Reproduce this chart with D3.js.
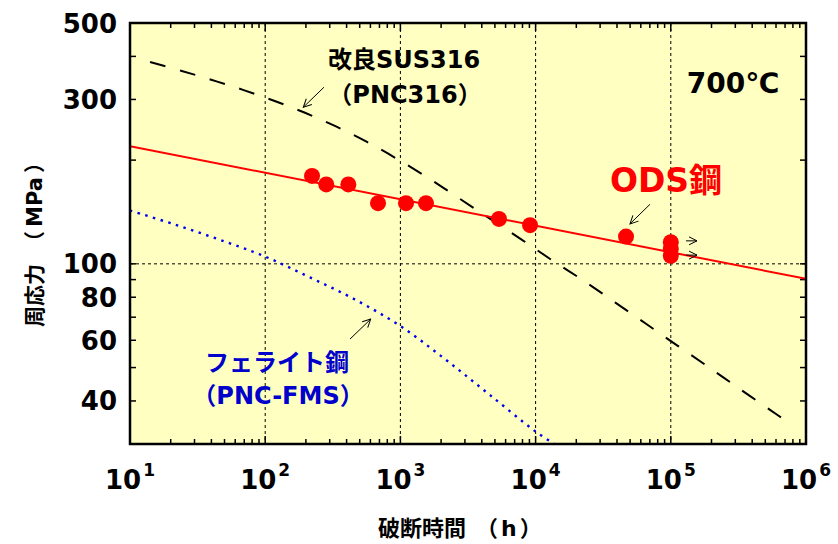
<!DOCTYPE html>
<html><head><meta charset="utf-8">
<script src="https://cdn.jsdelivr.net/npm/d3@7"></script>
<style>
body{margin:0;background:#fff;}
text{font-family:"DejaVu Sans","Noto Sans CJK JP",sans-serif;font-weight:bold;}
</style></head>
<body>
<svg id="c" width="838" height="544"></svg>
<script>
// ---- data ----
const xTickValues = [1e1, 1e2, 1e3, 1e4, 1e5, 1e6];
const xTickExponents = ["1", "2", "3", "4", "5", "6"];
const yTickLabels = [500, 300, 100, 80, 60, 40];
const yTickMarks = [40, 50, 60, 70, 80, 90, 100, 200, 300, 400, 500];
const gridX = [1e2, 1e3, 1e4, 1e5];
const gridY = [100];

const odsHours  = [222, 283, 412, 683, 1100, 1546, 5357, 9100, 46650, 100000, 100000, 100000];
const odsStress = [180, 170, 170, 150, 150, 150, 135, 129.5, 120, 115.5, 110.5, 105.5];
const odsFitHours  = [10, 1e6];
const odsFitStress = [219.5, 90.5];

const pncHours  = [14.07, 23.8, 40.4, 68.5, 116.2, 197, 334, 566, 960, 1627, 2760, 4677, 7930, 13450, 22800, 38670, 65560, 111200, 188400, 319500, 541700, 774500];
const pncStress = [385.3, 363.6, 341.7, 319.9, 297.4, 274.4, 250.5, 225.9, 200.9, 177.0, 154.3, 134.6, 117.4, 102.0, 89.2, 77.3, 67.0, 58.0, 50.3, 43.5, 37.7, 34.2];

const fmsHours  = [10, 21.5, 46.3, 99.7, 214.5, 461.5, 993, 2138, 4600, 9900, 13930];
const fmsStress = [142.8, 130.0, 117.4, 105.0, 91.3, 78.8, 66.1, 52.9, 41.6, 32.7, 29.9];

// ---- layout ----
const svg = d3.select("#c");
const L = 130, R = 806, T = 23, B = 444;
const x = d3.scaleLog().domain([10, 1e6]).range([L, R]);
const y = d3.scaleLog().domain([30, 500]).range([B, T]);

const defs = svg.append("defs");
defs.append("clipPath").attr("id", "clip")
  .append("rect").attr("x", L).attr("y", T).attr("width", R - L).attr("height", B - T);
const mk = defs.append("marker").attr("id", "arr")
  .attr("viewBox", "0 0 10 10").attr("refX", 9).attr("refY", 5)
  .attr("markerWidth", 10).attr("markerHeight", 10).attr("markerUnits", "userSpaceOnUse")
  .attr("orient", "auto");
mk.append("path").attr("d", "M1,1 L9,5 L1,9").attr("fill", "none").attr("stroke", "#000").attr("stroke-width", 1);

svg.append("rect").attr("x", L).attr("y", T).attr("width", R - L).attr("height", B - T).attr("fill", "#FFFFC2");

// grid
svg.selectAll(".gx").data(gridX).enter().append("line")
  .attr("x1", d => x(d)).attr("x2", d => x(d)).attr("y1", T).attr("y2", B)
  .attr("stroke", "#000").attr("stroke-width", 1).attr("stroke-dasharray", "3,3");
svg.selectAll(".gy").data(gridY).enter().append("line")
  .attr("x1", L).attr("x2", R).attr("y1", d => y(d)).attr("y2", d => y(d))
  .attr("stroke", "#000").attr("stroke-width", 1).attr("stroke-dasharray", "3,3");

// ticks
const minorX = [];
for (let e = 1; e < 6; e++) for (let m = 2; m <= 9; m++) minorX.push(m * Math.pow(10, e));
const tg = svg.append("g").attr("stroke", "#000").attr("stroke-width", 1.5);
minorX.forEach(v => {
  tg.append("line").attr("x1", x(v)).attr("x2", x(v)).attr("y1", B).attr("y2", B - 5);
  tg.append("line").attr("x1", x(v)).attr("x2", x(v)).attr("y1", T).attr("y2", T + 5);
});
xTickValues.forEach(v => {
  tg.append("line").attr("x1", x(v)).attr("x2", x(v)).attr("y1", B).attr("y2", B - 8);
  tg.append("line").attr("x1", x(v)).attr("x2", x(v)).attr("y1", T).attr("y2", T + 8);
});
yTickMarks.forEach(v => {
  tg.append("line").attr("x1", L).attr("x2", L + 6).attr("y1", y(v)).attr("y2", y(v));
  tg.append("line").attr("x1", R).attr("x2", R - 6).attr("y1", y(v)).attr("y2", y(v));
});

const g = svg.append("g").attr("clip-path", "url(#clip)");
const line = d3.line().x(d => x(d[0])).y(d => y(d[1]));

// ferritic steel (blue dotted)
g.append("path").datum(d3.zip(fmsHours, fmsStress))
  .attr("d", line.curve(d3.curveCatmullRom)).attr("fill", "none")
  .attr("stroke", "#0000EE").attr("stroke-width", 2.4).attr("stroke-dasharray", "2.5,5.5");

// PNC316 (black dashed)
g.append("path").datum(d3.zip(pncHours, pncStress))
  .attr("d", line.curve(d3.curveCatmullRom)).attr("fill", "none")
  .attr("stroke", "#000").attr("stroke-width", 2).attr("stroke-dasharray", "16,15");

// ODS fit line
g.append("path").datum(d3.zip(odsFitHours, odsFitStress))
  .attr("d", line.curve(d3.curveLinear)).attr("fill", "none")
  .attr("stroke", "#FF0000").attr("stroke-width", 2);

// ODS points
svg.selectAll(".pt").data(d3.zip(odsHours, odsStress)).enter().append("circle")
  .attr("cx", d => x(d[0])).attr("cy", d => y(d[1])).attr("r", 8).attr("fill", "#FF0000");

// annotation arrows (data coords)
const arrows = [
  [[272, 325.5], [191.4, 284.8]],
  [[424, 60.5], [603, 69.1]],
  [[70200, 148.9], [49900, 130.6]],
  [[129500, 116.6], [156300, 116.6]],
  [[129500, 106.0], [156300, 106.0]]
];
arrows.forEach(a => {
  svg.append("line").attr("x1", x(a[0][0])).attr("y1", y(a[0][1]))
    .attr("x2", x(a[1][0])).attr("y2", y(a[1][1]))
    .attr("stroke", "#000").attr("stroke-width", 1).attr("marker-end", "url(#arr)");
});

// frame
svg.append("rect").attr("x", L).attr("y", T).attr("width", R - L).attr("height", B - T)
  .attr("fill", "none").attr("stroke", "#000").attr("stroke-width", 2.5);

// y tick labels
svg.selectAll(".yl").data(yTickLabels).enter().append("text")
  .attr("x", 117).attr("y", d => y(d) + 9.5).attr("text-anchor", "end")
  .attr("font-size", 26).attr("fill", "#000").text(d => d);

// x tick labels
xTickValues.forEach((v, i) => {
  const t = svg.append("text").attr("x", x(v)).attr("y", 489).attr("text-anchor", "middle")
    .attr("font-size", 26).attr("fill", "#000");
  t.append("tspan").text("10");
  t.append("tspan").attr("font-size", 17).attr("dy", -13).attr("dx", 2).text(xTickExponents[i]);
});

// axis titles
const xt = svg.append("text").attr("x", 378).attr("y", 536).attr("text-anchor", "start")
  .attr("font-size", 22).attr("fill", "#000");
xt.append("tspan").text("破断時間");
xt.append("tspan").attr("dx", 10).text("（");
xt.append("tspan").attr("dx", 3).text("h");
xt.append("tspan").attr("dx", 3).text("）");

const yt = svg.append("text").attr("transform", "translate(42,327) rotate(-90)").attr("text-anchor", "start")
  .attr("font-size", 21).attr("fill", "#000");
yt.append("tspan").text("周応力");
yt.append("tspan").attr("dx", 12).text("（");
yt.append("tspan").attr("dx", 4).text("MPa");
yt.append("tspan").attr("dx", 4).text("）");

// labels
svg.append("text").attr("x", 404).attr("y", 68).attr("text-anchor", "middle")
  .attr("font-size", 24).attr("fill", "#000").text("改良SUS316");
svg.append("text").attr("x", 405).attr("y", 103).attr("text-anchor", "middle")
  .attr("font-size", 24).attr("fill", "#000").text("（PNC316）");
svg.append("text").attr("x", 733).attr("y", 93).attr("text-anchor", "middle")
  .attr("font-size", 28).attr("fill", "#000").text("700℃");
svg.append("text").attr("x", 666).attr("y", 192).attr("text-anchor", "middle")
  .attr("font-size", 33).attr("fill", "#FF0000").text("ODS鋼");
svg.append("text").attr("x", 277).attr("y", 371).attr("text-anchor", "middle")
  .attr("font-size", 24).attr("fill", "#0000CC").text("フェライト鋼");
svg.append("text").attr("x", 278).attr("y", 404).attr("text-anchor", "middle")
  .attr("font-size", 24).attr("fill", "#0000CC").text("（PNC-FMS）");
</script>
</body></html>
